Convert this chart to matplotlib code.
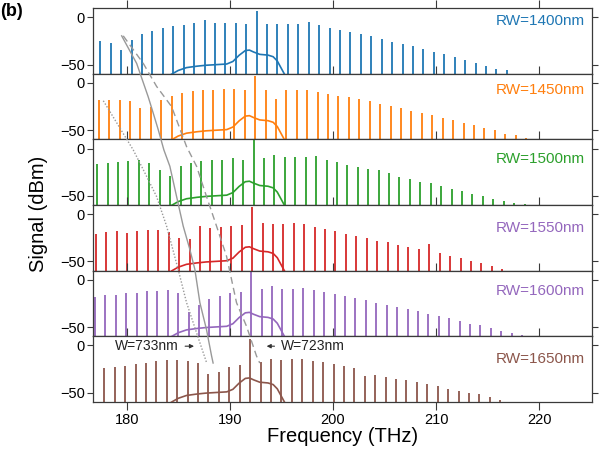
import numpy as np
import matplotlib.pyplot as plt

plt.rcParams['font.family'] = ['Liberation Sans', 'DejaVu Sans']

# comb spacing (THz) and pump frequency per ring
fsr = 1.01
pump = [192.6, 192.45, 192.3, 192.16, 192.07, 191.97]
n_first = [-15, -15, -15, -15, -15, -14]

rw_labels = ['RW=1400nm', 'RW=1450nm', 'RW=1500nm', 'RW=1550nm', 'RW=1600nm', 'RW=1650nm']
colors = ['#1f77b4', '#ff7f0e', '#2ca02c', '#d62728', '#9467bd', '#8c564b']
label_colors = ['#1f77b4', '#ff7f0e', '#2ca02c', '#9467bd', '#9467bd', '#8c564b']
label_y = [-3.6, -7, -11, -14.3, -11.8, -15]

# comb line powers (dBm), from n_first upward
p1400 = [-25, -27, -34, -24, -17.5, -14, -11.5, -9, -7.5, -6, -3, -5.5, -6, -6, -7,
         6.5, -7, -7,
         -7, -6.5, -4.7, -8.2, -10.7, -12.9, -15, -17.5, -20, -23.2, -25.7, -28.2, -30.7,
         -33.6, -36, -38.9, -41.8, -44.6, -47.9, -51.4, -54.3, -55.4]
p1450 = [-18.3, -17.6, -18.3, -19.3, -26.4, -25.4, -18.3, -13.3, -10.2, -8.5, -7, -7, -6.3, -6, -7.7,
         7, -7.7, -16.9,
         -7.4, -7.7, -7.7, -9.5, -11.6, -13.4, -15.1, -17.2, -18.6, -21.8, -24.6, -26.7, -29.2,
         -31.7, -33.8, -36.6, -38.7, -41.9, -44.7, -47.2, -50, -53.5, -55.3, -58.1]
p1500 = [-16.1, -15.4, -14.3, -12.8, -12.5, -15.4, -22.5, -29.3, -18.9, -15, -13.3, -12.2, -11.8, -10.4, -11.8,
         10, -10, -6.4,
         -9.3, -9.3, -8.6, -8.2, -11.8, -13.9, -17.8, -19.3, -21.8, -22.8, -26, -30, -32.5,
         -35, -36.8, -39.6, -43.2, -45, -47.5, -50.3, -53.5, -55.7, -57.5, -58.9]
p1550 = [-20.6, -18.8, -17.4, -19.9, -17.4, -16.3, -17, -18.8, -24.8, -25.9, -12.8, -14.5, -13.5, -12.1, -11,
         7.8, -9.9, -10.3,
         -10.7, -9.6, -10.3, -13.5, -16, -18.1, -20.9, -23.1, -25.5, -28, -29.8, -32.2, -34.8,
         -36.5, -31.2, -41.5, -44.3, -46.8, -49.3, -51.8, -54.6, -58.2]
p1600 = [-18.6, -16.4, -15.7, -14.3, -13.9, -12.1, -11.8, -11.4, -13.6, -33.9, -26.8, -20.7, -16.8, -14.3, -13.2,
         8.9, -9.6, -6.8,
         -10, -9.6, -8.9, -10.7, -13.2, -15, -17.1, -19.6, -21.8, -24.3, -26.8, -29.3, -31,
         -33.2, -36, -38.5, -40.7, -43.2, -47.1, -47.8, -50.7, -53.9, -56.7, -58.2]
p1650 = [-24.3, -22.8, -21.4, -20.3, -18.9, -17.1, -15.7, -15.7, -17.1, -18.6, -30.3, -28.6, -22.8, -20.7,
         7.1, -17.8, -14.6, -15.3, -14.3,
         -14.3, -16.8, -18.2, -20.3, -22.1, -23.6, -32.8, -31, -33.5, -35.7, -37.1, -38.9,
         -41, -43.5, -46, -47.8, -50, -51.7, -54.3, -57.8]
powers = [p1400, p1450, p1500, p1550, p1600, p1650]

# broad OSA background trace (same for all rings)
trace_f = [184.35, 185.0, 185.8, 186.8, 187.7, 189.7, 190.3, 190.9, 191.5, 191.9,
           192.3, 192.9, 193.7, 194.2, 194.6, 195.0, 195.3]
trace_p = [-60, -56, -53, -51.5, -50.5, -49.2, -46.5, -40, -35, -34.5,
           -36.5, -39, -39.8, -41.5, -46, -54, -60]

# dispersion guide curves, y in panel units (0 = top of stack, 6 = bottom)
solid_f = [179.52, 180.97, 182.09, 182.58, 183.06, 183.61, 184.19, 184.84, 185.48,
           186.13, 186.61, 187.10, 187.74, 188.23, 188.38]
solid_u = [0.42, 0.84, 1.35, 1.60, 1.85, 2.16, 2.41, 2.87, 3.32, 3.68, 3.98, 4.49, 4.90, 5.30, 5.41]
dash_f = [179.67, 181.61, 182.90, 184.36, 185.81, 186.78, 187.74, 188.71, 189.68,
          190.65, 191.62, 192.58, 192.90]
dash_u = [0.42, 0.84, 1.19, 1.50, 2.11, 2.41, 2.87, 3.32, 3.78, 4.49, 4.85, 5.30, 5.41]
dot_f = [177.74, 180.64, 181.61, 182.90, 183.87, 184.99, 185.81, 186.78, 187.74]
dot_u = [1.41, 2.16, 2.46, 2.87, 3.32, 3.98, 4.49, 4.95, 5.40]

xlim = (176.77, 225.07)
ylim = (-59.6, 9.6)

fig = plt.figure(figsize=(6, 4.49), dpi=100)
left, width = 93.3 / 600, 498.4 / 600
top = 1 - 8.3 / 449
ph = 65.57 / 449
spine_c = '#3a3a3a'

axes = []
for i in range(6):
    ax = fig.add_axes([left, top - (i + 1) * ph, width, ph])
    n = np.arange(n_first[i], n_first[i] + len(powers[i]))
    f = pump[i] + n * fsr
    ax.vlines(f, -60, powers[i], color=colors[i], lw=1.3, zorder=2)
    ax.plot(trace_f, trace_p, color=colors[i], lw=1.2, zorder=3)
    ax.set_xlim(*xlim)
    ax.set_ylim(*ylim)
    ax.set_yticks([-50, 0])
    ax.set_yticklabels(['\u221250', '0'])
    ax.set_xticks([180, 190, 200, 210, 220])
    ax.tick_params(axis='x', top=True, bottom=True, direction='out', length=6,
                   color=spine_c, labelbottom=(i == 5), labelsize=10.5, pad=2)
    ax.tick_params(axis='y', left=True, right=True, direction='out', length=4,
                   color=spine_c, labelsize=10.5, pad=2)
    for s in ax.spines.values():
        s.set_color(spine_c)
        s.set_linewidth(0.9)
    ax.text(0.987, label_y[i], rw_labels[i], color=label_colors[i], fontsize=11,
            ha='right', va='center', transform=ax.get_yaxis_transform())
    axes.append(ax)

# overlay for the guide curves crossing the panels
ov = fig.add_axes([left, top - 6 * ph, width, 6 * ph], zorder=10)
ov.patch.set_alpha(0)
ov.axis('off')
ov.set_xlim(*xlim)
ov.set_ylim(6, 0)
ov.plot(solid_f, solid_u, color='#999999', lw=1.0)
ov.plot(dash_f, dash_u, color='#999999', lw=1.0, dashes=(5, 3))
ov.plot(dot_f, dot_u, color='#999999', lw=1.0, ls=(0, (1, 1.3)))

axb = axes[-1]
axb.annotate('', xy=(186.8, -1), xytext=(185.4, -1),
             arrowprops=dict(arrowstyle='-|>', color='#333333', lw=0.8, mutation_scale=6))
axb.text(178.9, -1, 'W=733nm', fontsize=10, ha='left', va='center', color='#222222')
axb.annotate('', xy=(193.3, -1), xytext=(194.6, -1),
             arrowprops=dict(arrowstyle='-|>', color='#333333', lw=0.8, mutation_scale=6))
axb.text(195.0, -1, 'W=723nm', fontsize=10, ha='left', va='center', color='#222222')

axb.set_xlabel('Frequency (THz)', fontsize=14.5, labelpad=0)
fig.text(38 / 600, 1 - 214 / 449, 'Signal (dBm)', rotation=90, fontsize=14.5,
         ha='center', va='center')
fig.text(0.0, 1 - 12 / 449, '(b)', fontsize=13, fontweight='bold', ha='left', va='center')

fig.savefig('out.png', dpi=100)
